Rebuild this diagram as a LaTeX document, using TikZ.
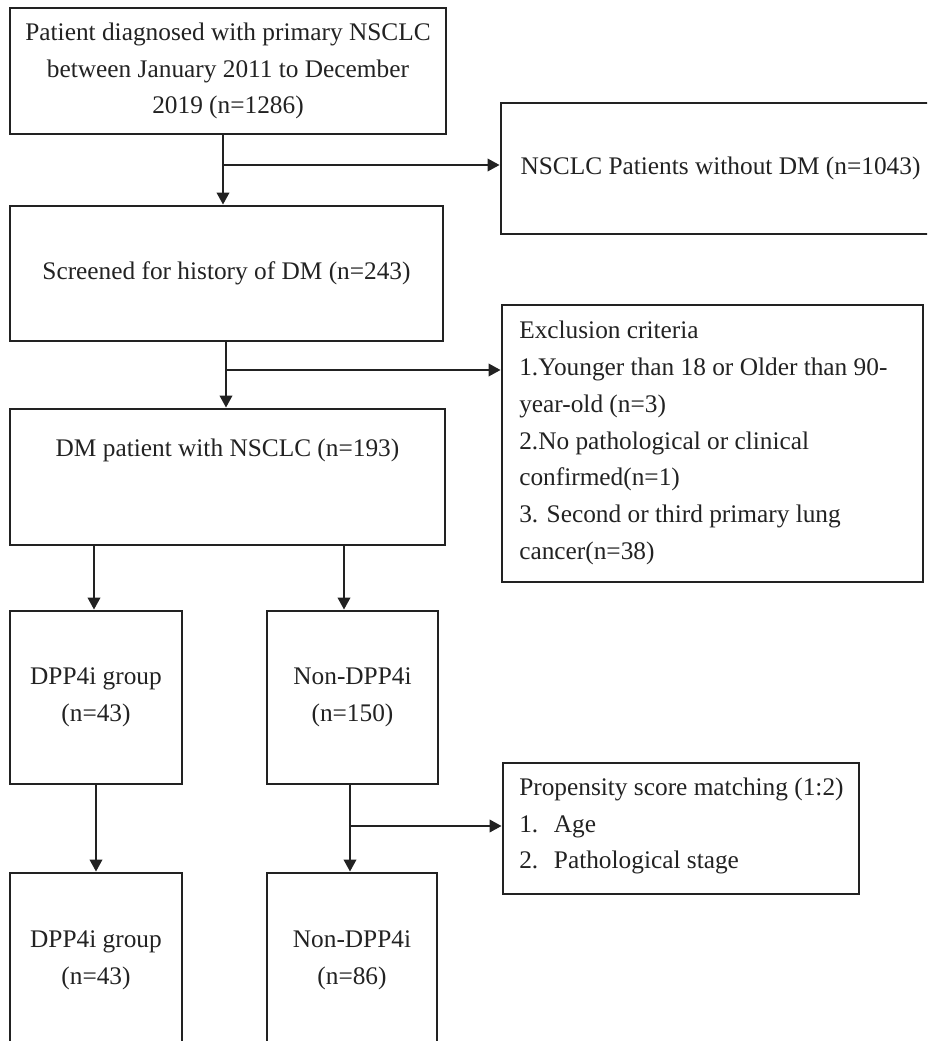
\documentclass[tikz,border=0pt]{standalone}
\usepackage{fontspec}
\setmainfont{Liberation Serif}
\usetikzlibrary{arrows.meta}
\definecolor{ink}{HTML}{222222}
\begin{document}
\begin{tikzpicture}[x=0.75pt,y=-0.75pt,
  box/.style={draw=ink,line width=2.2pt,inner sep=0pt,align=center,text=ink,
    font=\fontsize{19}{27.6}\selectfont},
  txt/.style={inner sep=0pt,text=ink,font=\fontsize{19}{27.6}\selectfont},
  conn/.style={draw=ink,line width=1.3pt},
  arr/.style={conn,-{Triangle[length=9pt,width=9.5pt]}}]
\useasboundingbox (0,0) rectangle (927,1041);
\clip (0,0) rectangle (927,1041);
% boxes
\node[box,minimum width=327pt,minimum height=94.5pt] (b1) at (228,71)
  {Patient diagnosed with primary NSCLC\\between January 2011 to December\\2019 (n=1286)};
\node[box,minimum width=329.25pt,minimum height=98.25pt] (nd) at (720.5,168.5)
  {NSCLC Patients without DM (n=1043)};
\node[box,minimum width=324.75pt,minimum height=101.25pt] (b2) at (226.5,273.5)
  {Screened for history of DM (n=243)};
\node[box,minimum width=315.75pt,minimum height=207.75pt] (ex) at (712.5,443.5) {};
\node[txt,anchor=west,align=left] (ext) at (519,443)
  {Exclusion criteria\\1.Younger than 18 or Older than 90-\\year-old (n=3)\\2.No pathological or clinical\\confirmed(n=1)\\3. Second or third primary lung\\cancer(n=38)};
\node[box,minimum width=326.25pt,minimum height=102pt] (b3) at (227.5,477) {};
\node[txt] (b3t) at (227.5,450) {DM patient with NSCLC (n=193)};
\node[box,minimum width=129pt,minimum height=129.75pt] (g1) at (96,697.5)
  {DPP4i group\\(n=43)};
\node[box,minimum width=128.25pt,minimum height=129.75pt] (g2) at (352.5,697.5)
  {Non-DPP4i\\(n=150)};
\node[box,minimum width=267pt,minimum height=98.25pt] (ps) at (681,828.5) {};
\node[txt,anchor=west,align=left] (pst) at (519,826)
  {Propensity score matching (1:2)\\\makebox[26pt][l]{1.}Age\\\makebox[26pt][l]{2.}Pathological stage};
\node[box,minimum width=129pt,minimum height=155.25pt] (m1) at (96,976.5) {};
\node[txt,align=center] (m1t) at (96,960) {DPP4i group\\(n=43)};
\node[box,minimum width=127.5pt,minimum height=155.25pt] (m2) at (352,976.5) {};
\node[txt,align=center] (m2t) at (352,960) {Non-DPP4i\\(n=86)};
% connectors
\coordinate (j1) at (223,165);
\draw[arr] (j1 |- b1.south) -- (j1 |- b2.north);
\draw[arr] (j1) -- (j1 -| nd.west);
\coordinate (j2) at (226,370);
\draw[arr] (j2 |- b2.south) -- (j2 |- b3.north);
\draw[arr] (j2) -- (j2 -| ex.west);
\coordinate (j3) at (94,580);
\draw[arr] (j3 |- b3.south) -- (j3 |- g1.north);
\coordinate (j4) at (344,580);
\draw[arr] (j4 |- b3.south) -- (j4 |- g2.north);
\coordinate (j5) at (96,830);
\draw[arr] (j5 |- g1.south) -- (j5 |- m1.north);
\coordinate (j6) at (350,826);
\draw[arr] (j6 |- g2.south) -- (j6 |- m2.north);
\draw[arr] (j6) -- (j6 -| ps.west);
\end{tikzpicture}
\end{document}
